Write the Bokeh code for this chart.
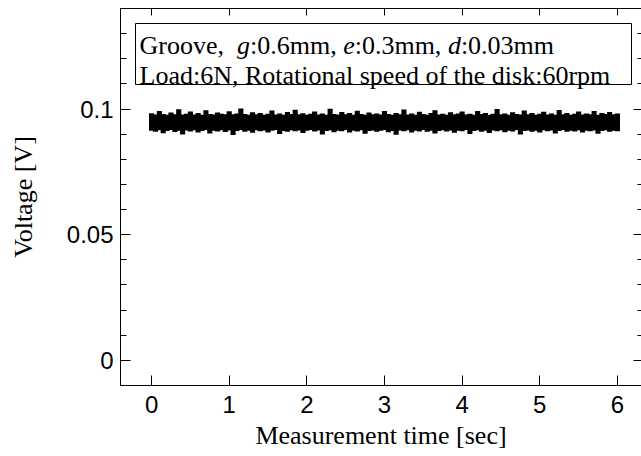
from bokeh.plotting import figure
from bokeh.models import Range1d, LinearAxis, FixedTicker, BoxAnnotation, Label, ColumnDataSource
from bokeh.embed import file_html
from bokeh.resources import INLINE

# ---------------- data ----------------
time_sec = [round(i * 0.05, 2) for i in range(121)]
upper_v = [
    0.0983, 0.0978, 0.0992, 0.0980, 0.0977, 0.0986, 0.0979, 0.0999, 0.0978, 0.0981,
    0.0990, 0.0978, 0.0984, 0.0977, 0.0995, 0.0980, 0.0978, 0.0986, 0.0981, 0.0979,
    0.0991, 0.0979, 0.0982, 0.1002, 0.0980, 0.0977, 0.0987, 0.0979, 0.0984, 0.0977,
    0.0981, 0.0994, 0.0978, 0.0982, 0.0977, 0.0988, 0.0980, 0.0997, 0.0979, 0.0983,
    0.0977, 0.0981, 0.0990, 0.0978, 0.0982, 0.0977, 0.1001, 0.0980, 0.0978, 0.0988,
    0.0979, 0.0984, 0.0977, 0.0993, 0.0980, 0.0977, 0.0986, 0.0979, 0.0982, 0.0978,
    0.0992, 0.0980, 0.0977, 0.0984, 0.0979, 0.0998, 0.0978, 0.0982, 0.0977, 0.0989,
    0.0980, 0.0977, 0.0984, 0.0995, 0.0978, 0.0981, 0.0977, 0.0987, 0.0979, 0.0982,
    0.0990, 0.0978, 0.0981, 0.0977, 0.0992, 0.0980, 0.0984, 0.0977, 0.0981, 0.1000,
    0.0979, 0.0982, 0.0977, 0.0987, 0.0980, 0.0978, 0.0994, 0.0979, 0.0984, 0.0977,
    0.0981, 0.0989, 0.0978, 0.0982, 0.0977, 0.0996, 0.0979, 0.0984, 0.0977, 0.0981,
    0.0990, 0.0978, 0.0982, 0.0979, 0.0992, 0.0977, 0.0984, 0.0980, 0.0988, 0.0979,
    0.0982,
]
lower_v = [
    0.0914, 0.0910, 0.0916, 0.0904, 0.0913, 0.0917, 0.0909, 0.0914, 0.0899, 0.0915,
    0.0911, 0.0916, 0.0907, 0.0913, 0.0917, 0.0903, 0.0914, 0.0911, 0.0916, 0.0909,
    0.0915, 0.0897, 0.0913, 0.0917, 0.0910, 0.0914, 0.0906, 0.0916, 0.0912, 0.0915,
    0.0907, 0.0914, 0.0917, 0.0901, 0.0913, 0.0910, 0.0916, 0.0912, 0.0915, 0.0905,
    0.0914, 0.0917, 0.0911, 0.0915, 0.0899, 0.0913, 0.0916, 0.0908, 0.0914, 0.0912,
    0.0917, 0.0907, 0.0914, 0.0911, 0.0916, 0.0902, 0.0913, 0.0915, 0.0910, 0.0914,
    0.0917, 0.0908, 0.0913, 0.0898, 0.0915, 0.0912, 0.0916, 0.0907, 0.0914, 0.0911,
    0.0917, 0.0910, 0.0914, 0.0903, 0.0913, 0.0916, 0.0911, 0.0915, 0.0906, 0.0914,
    0.0912, 0.0917, 0.0901, 0.0913, 0.0916, 0.0910, 0.0914, 0.0905, 0.0915, 0.0912,
    0.0916, 0.0908, 0.0914, 0.0911, 0.0917, 0.0899, 0.0913, 0.0915, 0.0910, 0.0914,
    0.0907, 0.0916, 0.0912, 0.0915, 0.0903, 0.0913, 0.0917, 0.0910, 0.0914, 0.0911,
    0.0916, 0.0907, 0.0914, 0.0912, 0.0915, 0.0902, 0.0913, 0.0916, 0.0910, 0.0914,
    0.0912,
]
x_ticks = [0, 1, 2, 3, 4, 5, 6]
y_ticks = [0, 0.05, 0.1]
y_tick_labels = ["0", "0.05", "0.1"]
y_minor = [round(-0.01 + 0.01 * i, 2) for i in range(16)]
legend_line1 = [("Groove,  ", "normal"), ("g", "italic"), (":0.6mm, ", "normal"),
                ("e", "italic"), (":0.3mm, ", "normal"), ("d", "italic"), (":0.03mm", "normal")]
legend_line2 = "Load:6N, Rotational speed of the disk:60rpm"

# ---------------- layout ----------------
W, H = 641, 456
B_LEFT, B_RIGHT, B_TOP, B_BOTTOM = 120, 0, 8, 71
X0, X1 = -0.4, 6.31
Y0, Y1 = -0.01, 0.14
FW = W - B_LEFT - B_RIGHT
FH = H - B_TOP - B_BOTTOM

SERIF = "Liberation Serif"
SANS = "Liberation Sans"
FS_TICK = "24px"
FS_TXT = 26

p = figure(width=W, height=H, x_range=Range1d(X0, X1), y_range=Range1d(Y0, Y1),
           output_backend="svg", toolbar_location=None,
           min_border_left=B_LEFT, min_border_right=B_RIGHT,
           min_border_top=B_TOP, min_border_bottom=B_BOTTOM,
           x_axis_location=None, y_axis_location=None)
p.grid.visible = False
p.outline_line_color = None
p.background_fill_color = "white"
p.border_fill_color = "white"

src = ColumnDataSource(dict(t=time_sec, lo=lower_v, hi=upper_v))
p.vbar(x="t", bottom="lo", top="hi", width=0.066, source=src,
       fill_color="black", line_color=None)


def style_axis(ax, major, minor, tin, mtin, labels=True):
    ax.ticker = FixedTicker(ticks=major, minor_ticks=minor)
    ax.axis_line_color = "black"
    ax.axis_line_width = 1
    ax.major_tick_line_color = "black"
    ax.minor_tick_line_color = "black"
    ax.major_tick_in = tin
    ax.major_tick_out = 0
    ax.minor_tick_in = mtin
    ax.minor_tick_out = 0
    if not labels:
        ax.major_label_text_font_size = "0px"
        ax.major_label_standoff = 0
        ax.major_label_overrides = {t: "" for t in major}


bottom = LinearAxis(axis_label="Measurement time [sec]")
style_axis(bottom, x_ticks, [], 10, 0)
bottom.major_label_text_font = SANS
bottom.major_label_text_font_size = FS_TICK
bottom.major_label_text_color = "black"
bottom.major_label_standoff = 10
bottom.axis_label_text_font = SERIF
bottom.axis_label_text_font_size = f"{FS_TXT}px"
bottom.axis_label_text_font_style = "normal"
bottom.axis_label_text_color = "black"
bottom.axis_label_standoff = 5
p.add_layout(bottom, "below")

left = LinearAxis(axis_label="Voltage [V]")
style_axis(left, y_ticks, y_minor, 10, 6)
left.major_label_overrides = {t: s for t, s in zip(y_ticks, y_tick_labels)}
left.major_label_text_font = SANS
left.major_label_text_font_size = FS_TICK
left.major_label_text_color = "black"
left.major_label_standoff = 7
left.axis_label_text_font = SERIF
left.axis_label_text_font_size = f"{FS_TXT}px"
left.axis_label_text_font_style = "normal"
left.axis_label_text_color = "black"
left.axis_label_standoff = 26
p.add_layout(left, "left")

top = LinearAxis()
style_axis(top, x_ticks, [], 7, 0, labels=False)
p.add_layout(top, "above")

right = LinearAxis()
style_axis(right, y_ticks, y_minor, 8, 4, labels=False)
right.axis_line_color = None
p.add_layout(right, "right")


# pixel -> data helpers for annotation placement
def dx(px):
    return X0 + (px - B_LEFT) / FW * (X1 - X0)


def dy(py):
    return Y1 - (py - B_TOP) / FH * (Y1 - Y0)


p.add_layout(BoxAnnotation(left=dx(135), right=dx(631), top=dy(23), bottom=dy(84),
                           fill_color="white", fill_alpha=1.0,
                           line_color="black", line_width=1, line_alpha=1.0))

# Times / Liberation Serif advance widths (1/1000 em)
WID = {"G": 722, "r": 333, "o": 500, "v": 500, "e": 444, ",": 250, " ": 250, ":": 278,
       ".": 250, "m": 778, "L": 611, "a": 444, "d": 500, "N": 722, "R": 667, "t": 278,
       "i": 278, "n": 500, "l": 278, "s": 389, "p": 500, "f": 333, "h": 500, "k": 500,
       "g": 500}
for c in "0123456789":
    WID[c] = 500


def text_w(s):
    return sum(WID.get(c, 500) for c in s) * FS_TXT / 1000.0


off = 0.0
for txt, style in legend_line1:
    p.add_layout(Label(x=dx(139), y=dy(45), x_offset=off, text=txt,
                       text_font=SERIF, text_font_size=f"{FS_TXT}px", text_font_style=style,
                       text_color="black", text_baseline="alphabetic", text_align="left"))
    off += text_w(txt)
p.add_layout(Label(x=dx(139), y=dy(75), text=legend_line2,
                   text_font=SERIF, text_font_size=f"{FS_TXT}px",
                   text_color="black", text_baseline="alphabetic", text_align="left"))

open("out.html", "w").write(file_html(p, INLINE))
